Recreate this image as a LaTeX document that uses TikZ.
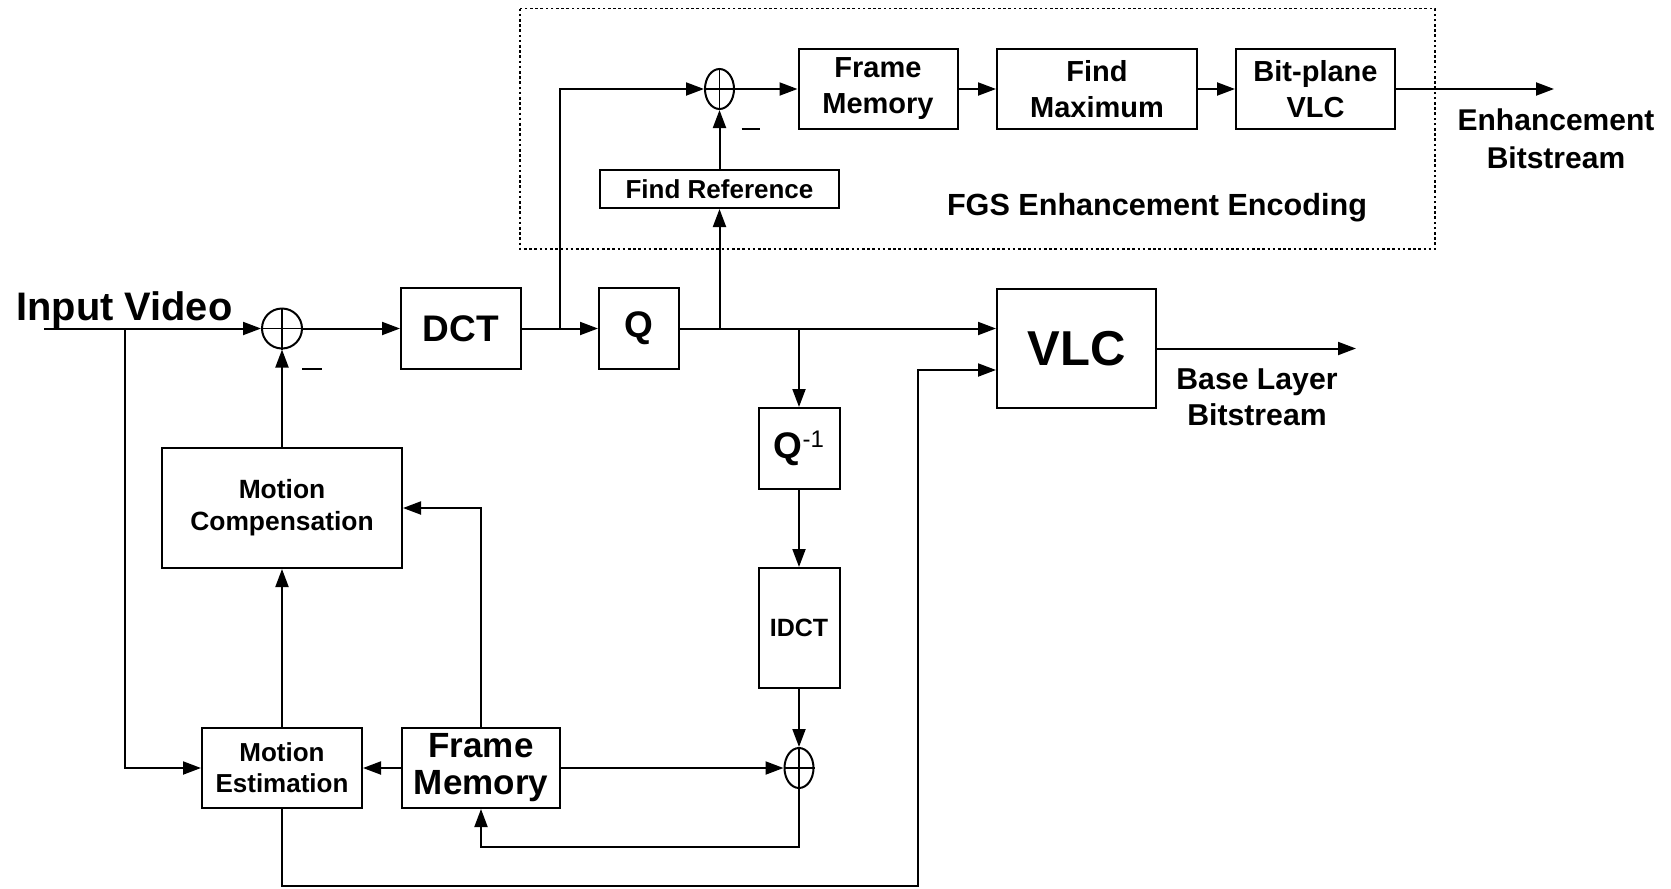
\documentclass[tikz,border=0pt]{standalone}
\usepackage{fontspec}
\setmainfont{Liberation Sans}
\usetikzlibrary{arrows.meta,shapes.geometric}
\newcommand\fsz[2]{\fontsize{#1}{#2}\selectfont}
\begin{document}
\begin{tikzpicture}[x=0.5pt,y=-0.5pt,
  blk/.style={draw, line width=1pt, inner sep=0pt, align=center},
  arr/.style={-{Triangle[length=9pt,width=6.5pt]}, line width=1pt},
  ln/.style={line width=1pt},
  sumc/.style={draw, line width=1pt, ellipse, inner sep=0pt, minimum width=20pt, minimum height=20pt},
  sume/.style={sumc, minimum width=14.5pt},
  lbl/.style={inner sep=0pt, align=center}]
\useasboundingbox (0,0) rectangle (1671,889);

% FGS enhancement encoder frame
\draw[line width=0.6pt, dash pattern=on 1.3pt off 1.3pt] (520,8.5) rectangle (1435,249);
\node[lbl, font=\bfseries\fsz{15.3}{18}] (fgs) at (1157,208) {FGS Enhancement Encoding};

% base layer blocks
\node[lbl, anchor=base west, font=\bfseries\fsz{19.9}{22}] (invid) at (16,320) {Input Video};
\node[sumc] (s1) at (282,328.5) {};
\node[blk, minimum width=60pt, minimum height=40.5pt, font=\bfseries\fsz{18.5}{22}] (dct) at (461,328.5) {DCT};
\node[blk, minimum width=40pt, minimum height=40.5pt, font=\bfseries\fsz{18.5}{22}] (q) at (639,328.5) {Q};
\node[blk, minimum width=79.5pt, minimum height=59.5pt, font=\bfseries\fsz{24.5}{28}] (vlc) at (1076.5,348.5) {VLC};
\node[blk, minimum width=40.5pt, minimum height=40.5pt, font=\bfseries\fsz{18.5}{22}] (qinv) at (799,448.5)
  {Q\raisebox{5.5pt}{\mdseries\fsz{12}{12}-1}};
\node[blk, minimum width=40.5pt, minimum height=60pt, font=\bfseries\fsz{12.5}{15}] (idct) at (799,628) {IDCT};
\node[sume] (s3) at (799,768) {};
\node[blk, minimum width=79pt, minimum height=40pt, font=\bfseries\fsz{17.5}{18.5}] (fm2) at (481,768) {Frame\\Memory};
\node[blk, minimum width=80pt, minimum height=40pt, font=\bfseries\fsz{13}{15.5}] (me) at (282,768) {Motion\\Estimation};
\node[blk, minimum width=120pt, minimum height=60pt, font=\bfseries\fsz{13.2}{16}] (mc) at (282,508) {Motion\\Compensation};
\node[lbl, font=\bfseries\fsz{15.1}{18}] (blb) at (1257,397.5) {Base Layer\\Bitstream};

% enhancement layer blocks
\node[sume] (s2) at (719.5,89) {};
\node[blk, minimum width=119.5pt, minimum height=19pt, font=\bfseries\fsz{13}{15}] (fref) at (719.5,189) {Find Reference};
\node[blk, minimum width=79.5pt, minimum height=40pt, font=\bfseries\fsz{14.5}{18}] (fm1) at (878,89) {Frame\\Memory};
\node[blk, minimum width=100pt, minimum height=40pt, font=\bfseries\fsz{14.5}{18}] (fmax) at (1097,89) {Find\\Maximum};
\node[blk, minimum width=79.5pt, minimum height=40pt, font=\bfseries\fsz{14.5}{18}] (bpv) at (1315.5,89) {Bit-plane\\VLC};
\node[lbl, font=\bfseries\fsz{15}{19}] (ebs) at (1556,138.5) {Enhancement\\Bitstream};

% plus signs in the adders and the minus marks
\foreach \s in {s1,s2,s3}
  \draw[line width=0.8pt] (\s.north) -- (\s.south) (\s.west) -- (\s.east);
\draw[ln] ([shift={(20,40)}]s1.center) -- ++(20,0);
\draw[ln] ([shift={(22,40)}]s2.center) -- ++(18,0);

% branch points and free ends
\coordinate (in) at (44,328.5);
\coordinate (b1) at (125,328.5);
\coordinate (b2) at (559.5,328.5);
\coordinate (b3) at (719.5,328.5);
\coordinate (b4) at (799,328.5);
\coordinate (lp) at (799,847);
\coordinate (bt) at (917.5,885.5);
\coordinate (v2y) at (0,370);
\coordinate (bsend) at (1356,348.5);
\coordinate (ebend) at (1554,89);

% base layer connections
\draw[arr] (in) -- (s1.west);
\draw[arr] (b1) |- (me.west);
\draw[arr] (s1.east) -- (dct.west);
\draw[arr] (dct.east) -- (q.west);
\draw[arr] (q.east) -- (q.east -| vlc.west);
\draw[arr] (b4) -- (qinv.north);
\draw[arr] (qinv.south) -- (idct.north);
\draw[arr] (idct.south) -- (s3.north);
\draw[arr] (fm2.east) -- (s3.west);
\draw[arr] (s3.south) -- (lp) -| (fm2.south);
\draw[arr] (fm2.west) -- (me.east);
\draw[arr] (me.north) -- (mc.south);
\draw[arr] (fm2.north) |- (mc.east);
\draw[arr] (mc.north) -- (s1.south);
\draw[arr] (me.south) |- (bt) |- (vlc.west |- v2y);
\draw[arr] (vlc.east) -- (bsend);

% enhancement layer connections
\draw[arr] (b2) |- (s2.west);
\draw[arr] (b3) -- (fref.south);
\draw[arr] (fref.north) -- (s2.south);
\draw[arr] (s2.east) -- (fm1.west);
\draw[arr] (fm1.east) -- (fmax.west);
\draw[arr] (fmax.east) -- (bpv.west);
\draw[arr] (bpv.east) -- (ebend);
\end{tikzpicture}
\end{document}
